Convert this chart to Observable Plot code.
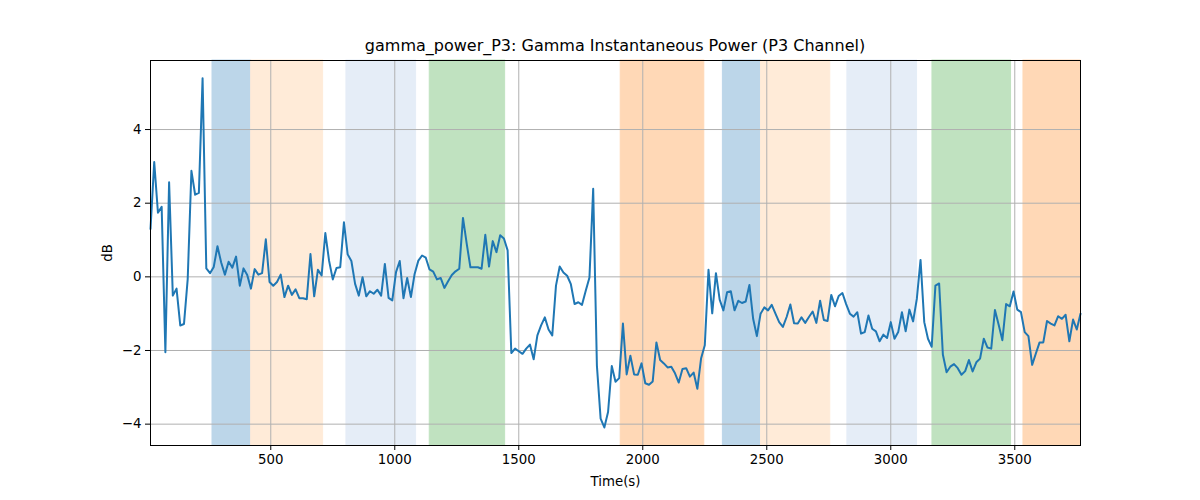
<!DOCTYPE html>
<html>
<head>
<meta charset="utf-8">
<script src="https://cdn.jsdelivr.net/npm/d3@7"></script>
<script src="https://cdn.jsdelivr.net/npm/@observablehq/plot@0.6"></script>
<style>
  html, body { margin: 0; padding: 0; background: #fff; }
  #wrap { width: 1200px; height: 500px; position: relative; font-family: "DejaVu Sans", sans-serif; }
  #title { position: relative; height: 56px; }
  #title span { position: absolute; left: 150px; width: 930px; top: 37px; text-align: center; font-size: 16px; line-height: 18px; color: #000; }
</style>
</head>
<body>
<div id="wrap">
  <div id="title"><span>gamma_power_P3: Gamma Instantaneous Power (P3 Channel)</span></div>
  <div id="chart"></div>
</div>
<script>
// ---- data ----
const timeStart = 15;
const timeStep = 15;
const powerDb = [
  1.3, 3.12, 1.74, 1.90, -2.05, 2.57, -0.51, -0.32, -1.32, -1.28,
  -0.06, 2.88, 2.23, 2.28, 5.39, 0.23, 0.10, 0.27, 0.83, 0.39,
  0.06, 0.41, 0.25, 0.55, -0.24, 0.23, 0.05, -0.32, 0.21, 0.06,
  0.10, 1.02, -0.14, -0.24, -0.14, 0.06, -0.55, -0.24, -0.49, -0.34,
  -0.58, -0.58, -0.61, 0.62, -0.53, 0.19, 0.04, 1.19, 0.44, -0.07,
  0.24, 0.26, 1.48, 0.61, 0.43, -0.19, -0.51, -0.01, -0.53, -0.39,
  -0.46, -0.35, -0.51, 0.35, -0.57, -0.64, 0.13, 0.43, -0.58, -0.03,
  -0.55, 0.08, 0.44, 0.58, 0.52, 0.20, 0.14, -0.07, -0.03, -0.30,
  -0.12, 0.05, 0.15, 0.22, 1.60, 0.90, 0.26, 0.26, 0.26, 0.22,
  1.14, 0.28, 0.97, 0.67, 1.13, 1.04, 0.72, -2.07, -1.95, -2.02,
  -2.09, -1.95, -1.84, -2.24, -1.59, -1.32, -1.10, -1.43, -1.59, -0.24,
  0.28, 0.12, 0.03, -0.20, -0.74, -0.69, -0.76, -0.38, -0.02, 2.39,
  -2.41, -3.85, -4.09, -3.67, -2.42, -2.85, -2.75, -1.27, -2.65, -2.14,
  -2.65, -2.66, -2.35, -2.89, -2.93, -2.84, -1.78, -2.26, -2.35, -2.46,
  -2.44, -2.62, -2.87, -2.50, -2.48, -2.71, -2.60, -3.04, -2.22, -1.86,
  0.19, -0.99, 0.10, -0.62, -0.91, -0.42, -0.39, -0.91, -0.65, -0.71,
  -0.67, -0.22, -1.14, -1.61, -1.00, -0.83, -0.91, -0.76, -1.00, -1.23,
  -1.36, -1.09, -0.75, -1.26, -1.27, -1.10, -1.25, -1.09, -0.94, -1.25,
  -0.65, -1.17, -1.20, -0.49, -0.80, -0.52, -0.44, -0.74, -1.00, -1.08,
  -0.96, -1.54, -1.50, -1.05, -1.41, -1.48, -1.75, -1.57, -1.66, -1.23,
  -1.68, -1.50, -0.96, -1.48, -0.89, -1.21, -0.60, 0.46, -1.23, -1.68,
  -1.90, -0.24, -0.18, -2.11, -2.59, -2.44, -2.37, -2.48, -2.66, -2.56,
  -2.26, -2.57, -2.32, -2.22, -1.68, -1.92, -1.95, -0.90, -1.30, -1.72,
  -0.74, -0.80, -0.40, -0.89, -0.96, -1.50, -1.61, -2.39, -2.08, -1.78,
  -1.78, -1.20, -1.27, -1.32, -1.07, -1.14, -1.03, -1.75, -1.16, -1.43,
  -1.00
];
const spanStart = [265, 421, 805, 1141, 1911, 2323, 2477, 2825, 3168, 3535];
const spanEnd   = [421, 711, 1086, 1445, 2248, 2477, 2756, 3106, 3485, 3765];
const spanKind  = ["blue", "lightorange", "lightblue", "green", "orange", "blue", "lightorange", "lightblue", "green", "orange"];
const xTicks = [500, 1000, 1500, 2000, 2500, 3000, 3500];
const yTicks = [-4, -2, 0, 2, 4];

// ---- styles ----
const spanColors = {
  blue: "#bcd6e9",
  lightorange: "#ffebd8",
  lightblue: "#e5edf7",
  green: "#c0e2c0",
  orange: "#ffd8b6"
};

const series = powerDb.map((v, i) => ({t: timeStart + timeStep * i, v}));
const spans = spanStart.map((s, i) => ({x1: s, x2: spanEnd[i], kind: spanKind[i]}));

const chart = Plot.plot({
  width: 1200,
  height: 444,
  marginLeft: 150,
  marginRight: 120,
  marginTop: 4,
  marginBottom: 55,
  style: {fontFamily: "DejaVu Sans, sans-serif", fontSize: "13.33px", color: "#000", background: "#fff"},
  x: {domain: [timeStart, timeStart + timeStep * (powerDb.length - 1)]},
  y: {domain: [-4.58, 5.875]},
  marks: [
    Plot.rect(spans, {x1: "x1", x2: "x2", fill: d => spanColors[d.kind], stroke: d => spanColors[d.kind], strokeWidth: 1}),
    Plot.gridX(xTicks, {stroke: "#b0b0b0", strokeOpacity: 1, strokeWidth: 1}),
    Plot.gridY(yTicks, {stroke: "#b0b0b0", strokeOpacity: 1, strokeWidth: 1}),
    Plot.line(series, {x: "t", y: "v", stroke: "#1f77b4", strokeWidth: 2}),
    Plot.frame({stroke: "#000", strokeWidth: 1}),
    Plot.axisX(xTicks, {tickSize: 5, tickPadding: 4, tickFormat: d3.format("d"), label: "Time(s)", labelAnchor: "center", labelArrow: "none", labelOffset: 40, fontSize: 13.33}),
    Plot.axisY(yTicks, {tickSize: 5, tickPadding: 4, label: "dB", labelAnchor: "center", labelArrow: "none", labelOffset: 48, fontSize: 13.33})
  ]
});
document.getElementById("chart").appendChild(chart);
</script>
</body>
</html>
